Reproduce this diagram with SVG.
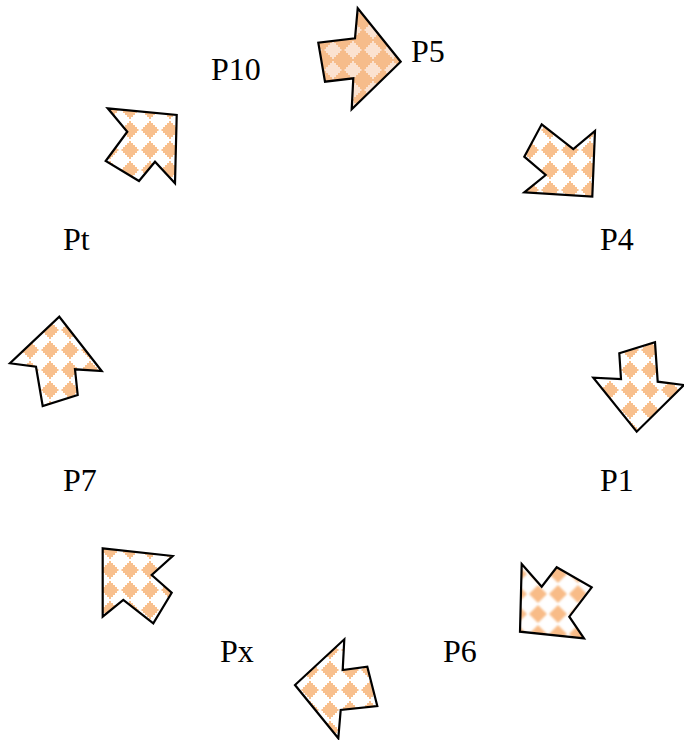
<svg xmlns="http://www.w3.org/2000/svg" width="684" height="740" viewBox="0 0 684 740">
<defs>
<style>
.lbl{font-family:"Liberation Serif","Times New Roman",serif;font-size:32px;fill:#000}
.arr{stroke:#000;stroke-width:2.2;stroke-linejoin:miter}
</style>
<path id="blob" d="M9,1H11V3H13V5H15V7H17V9H18.5V11H17V13H15V15H13V17H11V19H9V17H7V15H5V13H3V11H1.5V9H3V7H5V5H7V3H9Z"/>
<pattern id="dots" patternUnits="userSpaceOnUse" width="20" height="20">
<rect width="20" height="20" fill="#fff"/>
<use href="#blob" fill="#F8C08E"/>
</pattern>
<pattern id="inv" patternUnits="userSpaceOnUse" width="20" height="20" x="3" y="0">
<rect width="20" height="20" fill="#F6BC8A"/>
<use href="#blob" fill="#FBE2D0"/>
</pattern>
<filter id="bl" x="-0.2" y="-0.2" width="1.4" height="1.4"><feGaussianBlur stdDeviation="1.2"/></filter>
<pattern id="soft" patternUnits="userSpaceOnUse" width="20" height="20" x="8" y="4">
<rect width="20" height="20" fill="#fff"/>
<polygon points="10,1 19,10 10,19 1,10" fill="#F8BC88" filter="url(#bl)"/>
</pattern>
</defs>
<g id="connectors"/>
<g id="P5">
<polygon class="arr" fill="url(#inv)" points="357.7,8.3 400.7,61.7 351.7,109.3 353.3,78.3 325,81.7 318.3,42.7 355,38.3"/>
<text class="lbl" x="411" y="62">P5</text>
</g>
<g id="P10">
<polygon class="arr" fill="url(#dots)" points="107.7,108.3 176.7,115 175,183.3 155,161.7 139,181 105.7,161 127.3,131.7"/>
<text class="lbl" x="211" y="80">P10</text>
</g>
<g id="P4">
<polygon class="arr" fill="url(#dots)" points="541.7,124.3 573.3,149 595,131 592.3,196.7 524.3,192.3 545.7,175 524.3,156.7"/>
<text class="lbl" x="600" y="250">P4</text>
</g>
<g id="Pt">
<polygon class="arr" fill="url(#dots)" points="59.3,316.7 101.7,371 75,369.3 77.7,395 42.7,406 36,366.7 10,363.3"/>
<text class="lbl" x="63" y="250">Pt</text>
</g>
<g id="P1">
<polygon class="arr" fill="url(#dots)" points="619.3,353.3 655,342.3 657.7,381.7 684,385 636.7,431.7 593.3,377.7 621,379"/>
<text class="lbl" x="600" y="491">P1</text>
</g>
<g id="P7">
<polygon class="arr" fill="url(#dots)" points="102.7,548.3 172.7,556 151.7,575 171.7,592.7 153.3,623.3 123.3,600 102.7,616.7"/>
<text class="lbl" x="63" y="491">P7</text>
</g>
<g id="P6">
<polygon class="arr" fill="url(#soft)" points="521.7,564 541.7,586.7 556.7,567.3 591.7,587.3 569.3,616.7 584,638.3 520,631.7"/>
<text class="lbl" x="443" y="662">P6</text>
</g>
<g id="Px">
<polygon class="arr" fill="url(#dots)" points="344.3,639.3 342.7,670 367.3,666.7 377.3,706 340.7,710 338.3,738.3 295,685"/>
<text class="lbl" x="220" y="662">Px</text>
</g>
</svg>
